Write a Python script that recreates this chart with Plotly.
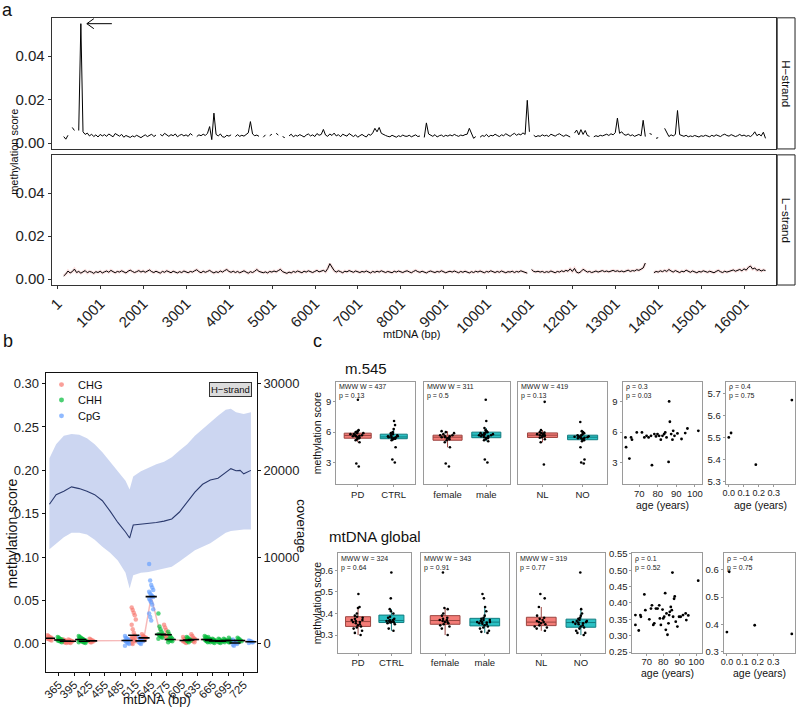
import numpy as np
import plotly.graph_objects as go

W, H = 800, 713
FONT = "Liberation Sans, Arial, Helvetica, sans-serif"


def fx(x):
    return x / W


def fy(y):
    return 1 - y / H


# ======================= DATA =======================
# ---- panel a: methylation score along mtDNA (50 bp windows starting at 145) ----
A_START, A_STEP = 145, 50
h_strand_score = [
    0.0030, 0.0018, 0.0036, None, 0.0072, 0.0058, None, 0.0058, 0.0550, 0.0052, 0.0040, 0.0046, 0.0033, 0.0041, 0.0030, 0.0038, 0.0028, 0.0040, 0.0033, 0.0039,
    0.0031, 0.0042, 0.0035, 0.0029, 0.0044, 0.0036, 0.0032, 0.0040, 0.0027, 0.0035, 0.0030, 0.0026, 0.0033, 0.0029, 0.0036, 0.0031, 0.0025, 0.0032, 0.0038, 0.0030,
    0.0034, 0.0041, 0.0030, 0.0037, None, 0.0040, 0.0033, 0.0045, 0.0036, 0.0031, 0.0039, 0.0034, 0.0042, 0.0029, 0.0036, 0.0040, 0.0033, 0.0038, 0.0031, 0.0044,
    0.0036, None, 0.0030, 0.0038, 0.0034, 0.0041, 0.0035, 0.0045, 0.0076, 0.0016, 0.0138, 0.0040, 0.0033, 0.0042, 0.0029, 0.0027, 0.0036, 0.0032, 0.0038, None,
    0.0030, 0.0039, 0.0031, 0.0036, 0.0032, 0.0041, 0.0047, 0.0099, 0.0042, 0.0034, 0.0037, 0.0031, None, 0.0027, 0.0038, None, 0.0034, 0.0041, None, 0.0045,
    0.0037, None, 0.0030, 0.0025, None, 0.0033, 0.0041, 0.0029, 0.0036, 0.0032, 0.0039, 0.0034, 0.0028, 0.0037, 0.0042, 0.0033, 0.0038, 0.0030, 0.0044, 0.0036,
    0.0040, 0.0063, 0.0037, 0.0031, 0.0042, 0.0035, 0.0046, 0.0033, 0.0039, 0.0029, 0.0041, 0.0036, 0.0032, 0.0044, 0.0035, 0.0030, 0.0038, 0.0027, 0.0034, 0.0040,
    0.0033, 0.0028, 0.0041, 0.0036, 0.0047, 0.0068, 0.0052, 0.0072, 0.0045, 0.0038, 0.0035, 0.0031, 0.0029, 0.0036, 0.0033, 0.0027, 0.0034, 0.0030, 0.0037, 0.0032,
    0.0031, 0.0036, 0.0029, 0.0034, 0.0038, 0.0030, 0.0033, None, 0.0026, 0.0093, 0.0042, 0.0035, 0.0031, 0.0039, 0.0028, 0.0034, 0.0037, 0.0030, 0.0036, 0.0032,
    0.0038, 0.0033, 0.0040, 0.0035, 0.0031, 0.0037, 0.0034, 0.0039, 0.0041, 0.0068, 0.0046, 0.0022, 0.0030, None, 0.0027, 0.0035, 0.0031, 0.0040, 0.0029, 0.0036,
    0.0033, 0.0041, 0.0035, 0.0030, 0.0038, 0.0034, 0.0043, 0.0037, 0.0031, 0.0039, 0.0045, 0.0036, 0.0042, 0.0038, 0.0047, 0.0040, 0.0197, 0.0052, None, 0.0036,
    0.0029, 0.0034, 0.0031, 0.0038, 0.0033, 0.0036, 0.0030, 0.0041, 0.0035, 0.0032, 0.0039, 0.0043, 0.0036, 0.0031, 0.0038, 0.0034, 0.0028, None, 0.0046, 0.0060,
    0.0038, 0.0062, 0.0040, 0.0058, 0.0035, 0.0031, None, 0.0029, 0.0034, 0.0030, 0.0036, 0.0033, 0.0039, 0.0041, 0.0035, 0.0043, 0.0038, 0.0048, 0.0115, 0.0045,
    0.0052, 0.0040, 0.0036, 0.0042, 0.0034, 0.0038, 0.0031, 0.0035, 0.0040, 0.0033, 0.0105, 0.0030, None, 0.0044, 0.0040, None, 0.0022, 0.0025, None, None,
    0.0068, 0.0045, 0.0030, 0.0038, 0.0033, 0.0040, 0.0150, 0.0039, 0.0034, 0.0031, 0.0036, 0.0029, 0.0033, 0.0030, 0.0035, 0.0032, 0.0028, 0.0034, 0.0031, 0.0036,
    0.0033, 0.0029, 0.0036, 0.0031, 0.0038, 0.0034, 0.0030, 0.0037, 0.0041, 0.0035, 0.0032, 0.0039, 0.0036, 0.0030, 0.0034, 0.0040, 0.0033, 0.0037, 0.0031, 0.0035,
    0.0030, 0.0038, 0.0052, 0.0034, 0.0041, 0.0033, 0.0050, 0.0022,
]
l_strand_score = [
    0.0015, 0.0024, 0.0038, 0.0029, 0.0035, 0.0047, 0.0031, 0.0036, 0.0028, 0.0034, 0.0040, 0.0030, 0.0036, 0.0033, 0.0027, 0.0035, 0.0031, 0.0037, 0.0029, 0.0034,
    0.0038, 0.0032, 0.0041, 0.0035, 0.0030, 0.0036, 0.0033, 0.0039, 0.0034, 0.0029, 0.0037, 0.0042, 0.0036, 0.0031, 0.0035, 0.0040, 0.0033, 0.0038, 0.0032, 0.0036,
    0.0043, 0.0035, 0.0031, 0.0037, 0.0033, 0.0028, 0.0036, 0.0032, 0.0039, 0.0034, 0.0030, 0.0037, 0.0033, 0.0029, 0.0035, 0.0031, 0.0038, 0.0034, 0.0030, 0.0036,
    0.0033, 0.0039, 0.0044, 0.0035, 0.0030, 0.0037, 0.0032, 0.0036, 0.0041, 0.0034, 0.0029, 0.0035, 0.0031, 0.0038, 0.0033, 0.0040, 0.0045, 0.0036, 0.0032, 0.0037,
    0.0031, 0.0036, 0.0030, 0.0034, 0.0039, 0.0033, 0.0028, 0.0035, 0.0031, 0.0037, 0.0045, 0.0036, 0.0032, 0.0030, 0.0034, 0.0029, 0.0036, 0.0033, 0.0038, 0.0034,
    0.0040, 0.0046, 0.0035, 0.0031, 0.0027, 0.0033, 0.0029, 0.0036, 0.0032, 0.0038, 0.0034, 0.0030, 0.0037, 0.0033, 0.0039, 0.0035, 0.0031, 0.0036, 0.0041, 0.0034,
    0.0036, 0.0041, 0.0034, 0.0049, 0.0072, 0.0055, 0.0040, 0.0033, 0.0039, 0.0035, 0.0030, 0.0037, 0.0034, 0.0040, 0.0036, 0.0032, 0.0038, 0.0035, 0.0031, 0.0036,
    0.0033, 0.0038, 0.0034, 0.0029, 0.0036, 0.0032, 0.0037, 0.0033, 0.0039, 0.0035, 0.0031, 0.0036, 0.0034, 0.0030, 0.0037, 0.0033, 0.0038, 0.0034, 0.0031, 0.0036,
    0.0039, 0.0034, 0.0030, 0.0036, 0.0041, 0.0035, 0.0032, 0.0037, 0.0033, 0.0029, 0.0035, 0.0038, 0.0034, 0.0031, 0.0036, 0.0033, 0.0039, 0.0035, 0.0030, 0.0034,
    0.0037, 0.0033, 0.0038, 0.0034, 0.0030, 0.0036, 0.0032, 0.0037, 0.0034, 0.0029, 0.0035, 0.0031, 0.0037, 0.0033, 0.0038, 0.0034, 0.0030, 0.0036, 0.0033, 0.0039,
    0.0034, 0.0031, 0.0036, 0.0032, 0.0038, 0.0034, 0.0030, 0.0035, 0.0033, 0.0037, 0.0031, 0.0036, 0.0033, 0.0039, 0.0035, 0.0031, 0.0028, None, 0.0045, 0.0036,
    0.0034, 0.0037, 0.0033, 0.0036, 0.0031, 0.0035, 0.0032, 0.0038, 0.0034, 0.0030, 0.0036, 0.0033, 0.0039, 0.0035, 0.0041, 0.0037, 0.0048, 0.0036, 0.0050, 0.0032,
    0.0029, 0.0035, 0.0046, 0.0038, 0.0033, 0.0036, 0.0031, 0.0034, 0.0038, 0.0033, 0.0036, 0.0040, 0.0035, 0.0038, 0.0034, 0.0037, 0.0041, 0.0036, 0.0039, 0.0035,
    0.0038, 0.0034, 0.0037, 0.0042, 0.0036, 0.0040, 0.0038, 0.0044, 0.0041, 0.0046, 0.0052, 0.0075, None, None, None, 0.0030, 0.0036, 0.0033, 0.0039, 0.0035,
    0.0041, 0.0036, 0.0045, 0.0038, 0.0033, 0.0040, 0.0035, 0.0031, 0.0037, 0.0034, 0.0042, 0.0036, 0.0032, 0.0038, 0.0034, 0.0030, 0.0036, 0.0033, 0.0039, 0.0035,
    0.0032, 0.0037, 0.0034, 0.0030, 0.0036, 0.0041, 0.0035, 0.0031, 0.0037, 0.0033, 0.0036, 0.0040, 0.0043, 0.0037, 0.0041, 0.0045, 0.0039, 0.0048, 0.0042, 0.0055,
    0.0061, 0.0047, 0.0052, 0.0041, 0.0045, 0.0038, 0.0043, 0.0040,
]
a_tick_positions = list(range(1, 16002, 1000))
strand_labels = ["H\u2212strand", "L\u2212strand"]

# ---- panel b: single CpG region around m.545 (H-strand) ----
b_site_pos = [347, 367, 378, 388, 408, 415, 429, 498, 511, 525, 531, 545, 563, 574, 582,
              611, 618, 627, 653, 660, 668, 680, 690, 700, 708, 717, 739]
b_site_context = ["CHG", "CHH", "CHG", "CHG", "CHH", "CHH", "CHG", "CpG", "CHG", "CpG", "CHG", "CpG", "CHH", "CHG", "CHH",
                  "CHG", "CHH", "CHG", "CHH", "CHH", "CHH", "CHH", "CHH", "CHH", "CpG", "CHH", "CpG"]
b_site_values = [
    [0.010, 0.009, 0.008, 0.007, 0.007, 0.006, 0.006, 0.005, 0.005, 0.004],
    [0.008, 0.007, 0.006, 0.005, 0.005, 0.004, 0.004, 0.003, 0.003, 0.002],
    [0.005, 0.004, 0.004, 0.003, 0.003, 0.003, 0.002, 0.002, 0.001],
    [0.005, 0.004, 0.004, 0.003, 0.003, 0.002, 0.002, 0.001],
    [0.009, 0.008, 0.007, 0.006, 0.005, 0.005, 0.004, 0.004, 0.003, 0.003, 0.002],
    [0.006, 0.005, 0.004, 0.004, 0.003, 0.003, 0.002, 0.002, 0.001],
    [0.006, 0.005, 0.004, 0.004, 0.003, 0.003, 0.002, 0.002],
    [0.009, 0.007, 0.006, 0.005, 0.004, 0.004, 0.003, 0.002, 0.001, 0.000, -0.002],
    [0.042, 0.039, 0.036, 0.033, 0.028, 0.022, 0.017, 0.013, 0.010, 0.008, 0.007, 0.006, 0.005, 0.004, 0.003, 0.001, 0.000],
    [0.008, 0.006, 0.005, 0.004, 0.003, 0.002, 0.001, 0.000],
    [0.011, 0.009, 0.008, 0.007, 0.007, 0.006, 0.005, 0.004],
    [0.092, 0.073, 0.068, 0.065, 0.062, 0.060, 0.058, 0.056, 0.055, 0.054, 0.052, 0.050, 0.048, 0.045, 0.040, 0.035, 0.031, 0.027],
    [0.035, 0.020, 0.017, 0.014, 0.012, 0.011, 0.010, 0.009, 0.008, 0.007, 0.006],
    [0.022, 0.019, 0.016, 0.013, 0.011, 0.010, 0.009, 0.008, 0.007, 0.005],
    [0.014, 0.011, 0.009, 0.007, 0.006, 0.005, 0.005, 0.004, 0.004, 0.003, 0.002],
    [0.008, 0.006, 0.005, 0.004, 0.004, 0.003, 0.003, 0.002, 0.001],
    [0.008, 0.007, 0.006, 0.005, 0.004, 0.004, 0.003, 0.002],
    [0.011, 0.009, 0.007, 0.006, 0.005, 0.004, 0.004, 0.003, 0.002],
    [0.009, 0.008, 0.007, 0.006, 0.005, 0.005, 0.004, 0.003, 0.002],
    [0.008, 0.006, 0.005, 0.004, 0.004, 0.003, 0.003, 0.002],
    [0.006, 0.005, 0.004, 0.004, 0.003, 0.003, 0.002, 0.001],
    [0.006, 0.005, 0.004, 0.003, 0.003, 0.002, 0.002, 0.001],
    [0.006, 0.005, 0.004, 0.004, 0.003, 0.003, 0.002],
    [0.007, 0.005, 0.004, 0.004, 0.003, 0.002, 0.002],
    [0.005, 0.003, 0.002, 0.001, 0.000, -0.001, -0.002],
    [0.007, 0.006, 0.005, 0.004, 0.003, 0.003, 0.002],
    [0.004, 0.003, 0.003, 0.002, 0.002, 0.001],
]
cov_pos = [347, 360, 375, 390, 405, 420, 435, 450, 465, 480, 495, 503, 510, 525, 540,
           555, 570, 585, 600, 615, 630, 645, 660, 675, 690, 700, 710, 718, 725, 739]
cov_mean = [16100, 17200, 17600, 18100, 17900, 17600, 17200, 16500, 15300, 14000, 12900, 12200, 13700, 13800, 13850,
            14000, 14150, 14400, 15200, 16300, 17500, 18400, 18900, 19100, 19800, 20200, 19950, 20000, 19600, 20000]
cov_upper = [21400, 23000, 24000, 24200, 24100, 23700, 23000, 22100, 21000, 19900, 18800, 17800, 19300, 19900, 20300,
             20700, 21000, 21500, 22300, 23000, 24000, 24800, 25600, 26300, 27000, 27100, 26700, 26600, 26500, 26700]
cov_lower = [10900, 11600, 12300, 12800, 12800, 12600, 12000, 11200, 10500, 9600, 8200, 6400, 7900, 8200, 8300,
             8500, 8700, 8900, 9500, 10200, 10800, 11200, 11600, 12200, 12800, 13000, 13100, 13100, 13200, 13200]
b_tick_positions = list(range(365, 726, 30))
context_colors = {"CHG": "#F8766D", "CHH": "#00BA38", "CpG": "#619CFF"}

# ---- panel c: group comparisons ----
pd_545 = [9.2, 2.9, 2.6, 5.0, 5.2, 5.4, 5.5, 5.5, 5.6, 5.6, 5.7, 5.7, 5.8, 5.8, 5.9, 5.9, 6.0, 6.0, 6.1, 6.2, 5.3, 5.65]
ctrl_545 = [7.1, 6.7, 4.5, 3.0, 3.3, 5.2, 5.3, 5.4, 5.4, 5.5, 5.5, 5.55, 5.6, 5.6, 5.7, 5.7, 5.8, 5.9, 6.0, 6.3, 5.45, 5.35]
female_545 = [2.6, 2.9, 4.5, 5.0, 5.2, 5.3, 5.4, 5.5, 5.5, 5.6, 5.6, 5.7, 5.7, 5.8, 5.9, 6.0, 6.1, 5.45]
male_545 = [9.2, 7.1, 6.4, 3.0, 3.3, 5.1, 5.2, 5.3, 5.4, 5.5, 5.5, 5.6, 5.6, 5.7, 5.7, 5.8, 5.8, 5.9, 5.9, 6.0, 6.0, 6.1, 5.65, 5.45, 5.75, 6.2]
nl_545 = [9.0, 2.8, 5.0, 5.3, 5.5, 5.6, 5.7, 5.7, 5.8, 5.8, 5.9, 6.0, 6.2, 5.45, 5.65, 5.95]
no_545 = [7.0, 4.5, 3.3, 3.0, 2.9, 5.1, 5.2, 5.3, 5.4, 5.4, 5.5, 5.5, 5.6, 5.6, 5.7, 5.7, 5.8, 5.9, 6.0, 6.1, 5.45, 5.55, 5.35, 5.65]
pd_glob = [0.49, 0.43, 0.425, 0.40, 0.39, 0.385, 0.38, 0.375, 0.37, 0.365, 0.36, 0.36, 0.355, 0.35, 0.345, 0.34, 0.335, 0.33, 0.32, 0.30, 0.31, 0.37]
ctrl_glob = [0.59, 0.47, 0.42, 0.41, 0.40, 0.385, 0.38, 0.375, 0.37, 0.365, 0.362, 0.36, 0.358, 0.355, 0.35, 0.33, 0.32, 0.365, 0.37, 0.358]
female_glob = [0.59, 0.425, 0.42, 0.40, 0.39, 0.38, 0.375, 0.37, 0.365, 0.36, 0.36, 0.355, 0.35, 0.345, 0.34, 0.33, 0.30, 0.37]
male_glob = [0.49, 0.47, 0.43, 0.41, 0.39, 0.38, 0.375, 0.37, 0.365, 0.36, 0.36, 0.355, 0.35, 0.345, 0.34, 0.335, 0.33, 0.32, 0.315, 0.31, 0.37, 0.36, 0.358, 0.352]
nl_glob = [0.49, 0.47, 0.43, 0.39, 0.38, 0.375, 0.37, 0.365, 0.36, 0.355, 0.35, 0.345, 0.34, 0.335, 0.33, 0.32, 0.36]
no_glob = [0.59, 0.42, 0.40, 0.39, 0.38, 0.375, 0.37, 0.365, 0.36, 0.36, 0.355, 0.35, 0.345, 0.34, 0.335, 0.33, 0.32, 0.31, 0.31, 0.30, 0.365, 0.358, 0.352]

age_545 = [62.5, 62.8, 64.6, 65.5, 66.0, 68.6, 71.4, 72.7, 73.9, 75.0, 76.3, 76.8, 78.1, 79.0, 79.8, 80.7, 81.6,
           82.5, 83.4, 84.0, 84.7, 85.8, 86.1, 86.5, 87.2, 87.9, 88.3, 89.0, 90.6, 92.8, 94.8, 96.0, 101.9]
age_score_545 = [5.48, 4.51, 3.38, 5.48, 5.26, 5.97, 5.97, 5.48, 5.64, 5.48, 5.64, 2.73, 5.81, 5.58, 5.81, 5.64, 5.26,
                 5.64, 5.81, 5.97, 5.48, 3.05, 9.04, 7.03, 5.81, 5.26, 6.13, 5.64, 5.87, 5.32, 5.91, 6.36, 6.13]
age_glob = [63.2, 63.2, 65.2, 66.2, 66.5, 68.6, 69.2, 71.6, 72.6, 73.2, 74.0, 74.6, 75.6, 76.6, 77.6, 78.0, 78.6, 79.6,
            80.0, 80.6, 81.2, 81.6, 82.0, 82.6, 83.2, 83.6, 84.0, 84.6, 85.2, 85.6, 86.0, 86.6, 87.0, 87.6, 88.6, 89.6,
            90.6, 92.0, 93.6, 94.0, 95.2, 101.2]
age_score_glob = [0.363, 0.333, 0.316, 0.363, 0.358, 0.426, 0.378, 0.350, 0.383, 0.393, 0.333, 0.338, 0.383, 0.383,
                  0.393, 0.353, 0.333, 0.380, 0.353, 0.358, 0.430, 0.318, 0.368, 0.303, 0.338, 0.363, 0.373, 0.388,
                  0.378, 0.493, 0.358, 0.413, 0.420, 0.343, 0.328, 0.358, 0.358, 0.363, 0.368, 0.348, 0.362, 0.468]
young_age = [0.0, 0.015, 0.18, 0.42]
young_score_545 = [5.50, 5.52, 5.376, 5.67]
young_score_glob = [0.372, 0.593, 0.397, 0.365]

top_stats = [("MWW W = 437", "p = 0.13"), ("MWW W = 311", "p = 0.5"), ("MWW W = 419", "p = 0.13"),
             ("\u03c1 = 0.3", "p = 0.03"), ("\u03c1 = 0.4", "p = 0.75")]
bot_stats = [("MWW W = 324", "p = 0.64"), ("MWW W = 343", "p = 0.91"), ("MWW W = 319", "p = 0.77"),
             ("\u03c1 = 0.1", "p = 0.52"), ("\u03c1 = \u22120.4", "p = 0.75")]
group_pairs = [("PD", "CTRL"), ("female", "male"), ("NL", "NO")]

# ======================= FIGURE =======================
fig = go.Figure()
layout = dict(width=W, height=H, margin=dict(l=0, r=0, t=0, b=0), paper_bgcolor="white",
              plot_bgcolor="white", showlegend=False, font=dict(family=FONT, color="#111"))
annotations, shapes = [], []


def note(text, x, y, size, angle=0, xanchor="center", yanchor="middle", color="#111", **kw):
    annotations.append(dict(text=text, x=fx(x), y=fy(y), xref="paper", yref="paper", showarrow=False,
                            textangle=angle, xanchor=xanchor, yanchor=yanchor,
                            font=dict(size=size, family=FONT, color=color), **kw))


def axis(domain, rng, lc="#333", size=12, **kw):
    d = dict(domain=domain, range=rng, showgrid=False, zeroline=False, showline=True, mirror=True,
             linecolor=lc, linewidth=1, ticks="outside", ticklen=3, tickcolor=lc,
             tickfont=dict(size=size, family=FONT, color="#222"))
    d.update(kw)
    return d


# ---------- panel a ----------
a_pos = [A_START + A_STEP * i for i in range(len(h_strand_score))]
fig.add_trace(go.Scatter(x=a_pos, y=h_strand_score, mode="lines", line=dict(color="black", width=1),
                         xaxis="x", yaxis="y", hoverinfo="skip"))
fig.add_trace(go.Scatter(x=a_pos, y=l_strand_score, mode="lines", line=dict(color="rgba(235,120,120,0.22)", width=3),
                         xaxis="x2", yaxis="y2", hoverinfo="skip"))
fig.add_trace(go.Scatter(x=a_pos, y=l_strand_score, mode="lines", line=dict(color="black", width=1),
                         xaxis="x2", yaxis="y2", hoverinfo="skip"))

a_xr = [-137, 16744]
a_yr = [-0.0027, 0.0577]
a_xdom = [fx(47), fx(778)]
layout["xaxis"] = axis(a_xdom, a_xr, anchor="y", showticklabels=False, ticks="")
layout["yaxis"] = axis([fy(146), fy(13)], a_yr, anchor="x", size=15, tickvals=[0, 0.02, 0.04], tickformat=".2f")
layout["xaxis2"] = axis(a_xdom, a_xr, anchor="y2", size=15, tickvals=a_tick_positions,
                        ticktext=[str(v) for v in a_tick_positions], tickangle=-45)
layout["yaxis2"] = axis([fy(284), fy(152)], a_yr, anchor="x2", size=15, tickvals=[0, 0.02, 0.04], tickformat=".2f")

# arrow pointing at the highest H-strand peak
peak_i = max(range(len(h_strand_score)), key=lambda i: h_strand_score[i] or 0)
shapes.append(dict(type="path", xref="x", yref="y", xsizemode="pixel", ysizemode="pixel",
                   xanchor=a_pos[peak_i], yanchor=h_strand_score[peak_i],
                   path="M 31,0 L 6,0 M 13,-5 L 6,0 L 13,5", line=dict(color="black", width=1)))
for (y0, y1), lab in zip([(13, 146), (152, 284)], strand_labels):
    shapes.append(dict(type="rect", xref="paper", yref="paper", x0=fx(779), x1=fx(797), y0=fy(y1), y1=fy(y0),
                       line=dict(color="#222", width=1), fillcolor="white"))
    note(lab, 788, (y0 + y1) / 2, 11.5, angle=90)
note("methylation score", 9, 149, 11, angle=-90)
note("mtDNA (bp)", 410, 334, 11)
note("a", 3, 5, 18)

# ---------- panel b ----------
fig.add_trace(go.Scatter(x=cov_pos, y=cov_lower, mode="lines", line=dict(width=0), xaxis="x3", yaxis="y3",
                         hoverinfo="skip"))
fig.add_trace(go.Scatter(x=cov_pos, y=cov_upper, mode="lines", line=dict(width=0), fill="tonexty",
                         fillcolor="rgba(198,210,240,0.9)", xaxis="x3", yaxis="y3", hoverinfo="skip"))
fig.add_trace(go.Scatter(x=cov_pos, y=cov_mean, mode="lines", line=dict(color="#2b3a6e", width=1.1),
                         xaxis="x3", yaxis="y3", hoverinfo="skip"))

site_medians = [float(np.median(v)) for v in b_site_values]
fig.add_trace(go.Scatter(x=b_site_pos, y=site_medians, mode="lines",
                         line=dict(color="rgba(240,140,140,0.6)", width=1.5),
                         xaxis="x3", yaxis="y4", hoverinfo="skip"))
for ctx, col in context_colors.items():
    xs, ys = [], []
    for pos, c, vals in zip(b_site_pos, b_site_context, b_site_values):
        if c != ctx:
            continue
        for k, v in enumerate(vals):
            xs.append(pos + ((k % 5) - 2) * 2.0)
            ys.append(v)
    fig.add_trace(go.Scatter(x=xs, y=ys, mode="markers", marker=dict(color=col, size=4.5, opacity=0.65),
                             xaxis="x3", yaxis="y4", hoverinfo="skip"))
fig.add_trace(go.Scatter(x=b_site_pos, y=site_medians, mode="markers",
                         marker=dict(symbol="line-ew", size=8, line=dict(color="black", width=1.6)),
                         xaxis="x3", yaxis="y4", hoverinfo="skip"))

b_xdom = [fx(41), fx(254)]
b_ydom = [fy(676), fy(373)]
layout["xaxis3"] = axis(b_xdom, [339.6, 750.4], lc="#111", size=11.5, anchor="y3", tickvals=b_tick_positions,
                        ticktext=[str(v) for v in b_tick_positions], tickangle=-45, ticklabelstandoff=-2)
layout["yaxis3"] = axis(b_ydom, [-3182, 31250], lc="#111", size=13, anchor="x3", side="right",
                        tickvals=[0, 10000, 20000, 30000], tickformat="d")
layout["yaxis4"] = axis(b_ydom, [-0.03182, 0.3125], lc="#111", size=13, anchor="x3", side="left",
                        overlaying="y3", mirror=False, tickvals=[0, 0.05, 0.10, 0.15, 0.20, 0.25, 0.30],
                        tickformat=".2f")
for (ctx, col), yy in zip(context_colors.items(), [385, 400.7, 416.7]):
    shapes.append(dict(type="circle", xref="paper", yref="paper", x0=fx(54.5), x1=fx(59.5), y0=fy(yy + 2.5),
                       y1=fy(yy - 2.5), fillcolor=col, opacity=0.7, line=dict(width=0)))
    note(ctx, 72, yy, 11, xanchor="left")
note("H\u2212strand", 227.8, 390, 9.5, bgcolor="#dcdcdc", bordercolor="#333", borderwidth=1, borderpad=1)
note("methylation score", 8, 536, 14, angle=-90)
note("mtDNA (bp)", 153, 704, 13)
note("coverage", 299, 528, 13, angle=90)
note("b", 3, 341, 18)

# ---------- panel c ----------
top_xd = [(334, 414), (423, 509), (518, 607), (623, 703), (727, 797)]
bot_xd = [(336, 410), (420, 508), (517, 605), (633, 703), (725, 797)]
top_yd, bot_yd = (382, 486), (556, 657)
top_groups = [(pd_545, ctrl_545), (female_545, male_545), (nl_545, no_545)]
bot_groups = [(pd_glob, ctrl_glob), (female_glob, male_glob), (nl_glob, no_glob)]
fills = [("rgba(242,110,104,0.9)", "#9c4540"), ("rgba(20,185,188,0.9)", "#127d80")]

rows = [
    dict(xd=top_xd, yd=top_yd, groups=top_groups, stats=top_stats, idx0=5,
         yr_box=[0.85, 11.0], box_ticks=[3, 6, 9], box_fmt="d",
         age=age_545, age_y=age_score_545, age_xr=[60.9, 103.8], age_yr=[0.85, 11.0], age_ticks=[3, 6, 9], age_fmt="d",
         yng_y=young_score_545, yng_yr=[5.287, 5.754], yng_ticks=[5.3, 5.4, 5.5, 5.6, 5.7], yng_fmt=".1f"),
    dict(xd=bot_xd, yd=bot_yd, groups=bot_groups, stats=bot_stats, idx0=10,
         yr_box=[0.218, 0.679], box_ticks=[0.3, 0.4, 0.5, 0.6], box_fmt=".1f",
         age=age_glob, age_y=age_score_glob, age_xr=[61.4, 103.4], age_yr=[0.248, 0.552],
         age_ticks=[0.25, 0.30, 0.35, 0.40, 0.45, 0.50, 0.55], age_fmt=".2f",
         yng_y=young_score_glob, yng_yr=[0.296, 0.661], yng_ticks=[0.3, 0.4, 0.5, 0.6], yng_fmt=".1f"),
]
CLC = "#9a9a9a"
for row in rows:
    yd = [fy(row["yd"][1]), fy(row["yd"][0])]
    for j in range(5):
        n = row["idx0"] + j
        xa, ya = f"x{n}", f"y{n}"
        x0, x1 = row["xd"][j]
        xd = [fx(x0), fx(x1)]
        if j < 3:
            cats = group_pairs[j]
            for (vals, cat), (fc, lc) in zip(zip(row["groups"][j], cats), fills):
                fig.add_trace(go.Box(y=vals, x=[cat] * len(vals), xaxis=xa, yaxis=ya, boxpoints="all", jitter=0.55,
                                     pointpos=0, width=0.75, whiskerwidth=0, fillcolor=fc,
                                     line=dict(color=lc, width=1), quartilemethod="linear",
                                     marker=dict(color="black", size=2.6), hoverinfo="skip"))
            layout[f"xaxis{n}"] = axis(xd, [-0.6, 1.6], lc=CLC, size=9.5, anchor=ya, type="category",
                                       categoryarray=list(cats), categoryorder="array", ticklen=2, tickangle=0,
                                       ticklabelstandoff=-1)
            if j == 0:
                layout[f"yaxis{n}"] = axis(yd, row["yr_box"], lc=CLC, size=9.5, anchor=xa,
                                           tickvals=row["box_ticks"], ticklen=2,
                                           tickformat=row["box_fmt"] if row["box_fmt"] != "d" else None)
            else:
                layout[f"yaxis{n}"] = axis(yd, row["yr_box"], lc=CLC, anchor=xa, showticklabels=False, ticks="")
        elif j == 3:
            fig.add_trace(go.Scatter(x=row["age"], y=row["age_y"], mode="markers", xaxis=xa, yaxis=ya,
                                     marker=dict(color="black", size=2.8), hoverinfo="skip"))
            layout[f"xaxis{n}"] = axis(xd, row["age_xr"], lc=CLC, size=9.5, anchor=ya, tickvals=[70, 80, 90, 100],
                                       ticklen=2, tickangle=0, ticklabelstandoff=-2)
            layout[f"yaxis{n}"] = axis(yd, row["age_yr"], lc=CLC, size=9.5, anchor=xa, tickvals=row["age_ticks"],
                                       ticklen=2, tickformat=row["age_fmt"] if row["age_fmt"] != "d" else None)
        else:
            fig.add_trace(go.Scatter(x=young_age, y=row["yng_y"], mode="markers", xaxis=xa, yaxis=ya,
                                     marker=dict(color="black", size=2.8), hoverinfo="skip"))
            layout[f"xaxis{n}"] = axis(xd, [-0.021, 0.441], lc=CLC, size=9, anchor=ya,
                                       tickvals=[0, 0.1, 0.2, 0.3], tickformat=".1f", ticklen=2, tickangle=0,
                                       ticklabelstandoff=-2)
            layout[f"yaxis{n}"] = axis(yd, row["yng_yr"], lc=CLC, size=9.5, anchor=xa, tickvals=row["yng_ticks"],
                                       ticklen=2, tickformat=row["yng_fmt"])
        l1, l2 = row["stats"][j]
        note(l1 + "<br>" + l2, x0 + 2, row["yd"][0] + 0.5, 7, xanchor="left", yanchor="top", color="#222",
             align="left", borderpad=0)
    ymid = (row["yd"][0] + row["yd"][1]) / 2
    note("methylation score", 315, ymid, 10.5, angle=-90)
    note("age (years)", (row["xd"][3][0] + row["xd"][3][1]) / 2, row["yd"][1] + 21, 10.5, borderpad=0)
    note("age (years)", (row["xd"][4][0] + row["xd"][4][1]) / 2, row["yd"][1] + 21, 10.5, borderpad=0)

note("m.545", 364, 369, 15)
note("mtDNA global", 373, 539, 15)
note("c", 315, 341, 18)

layout["annotations"] = annotations
layout["shapes"] = shapes
fig.update_layout(**layout)
fig.write_html("out.html", config={"displayModeBar": False},
               post_script="document.body.style.margin='0px';document.body.style.padding='0px';")
